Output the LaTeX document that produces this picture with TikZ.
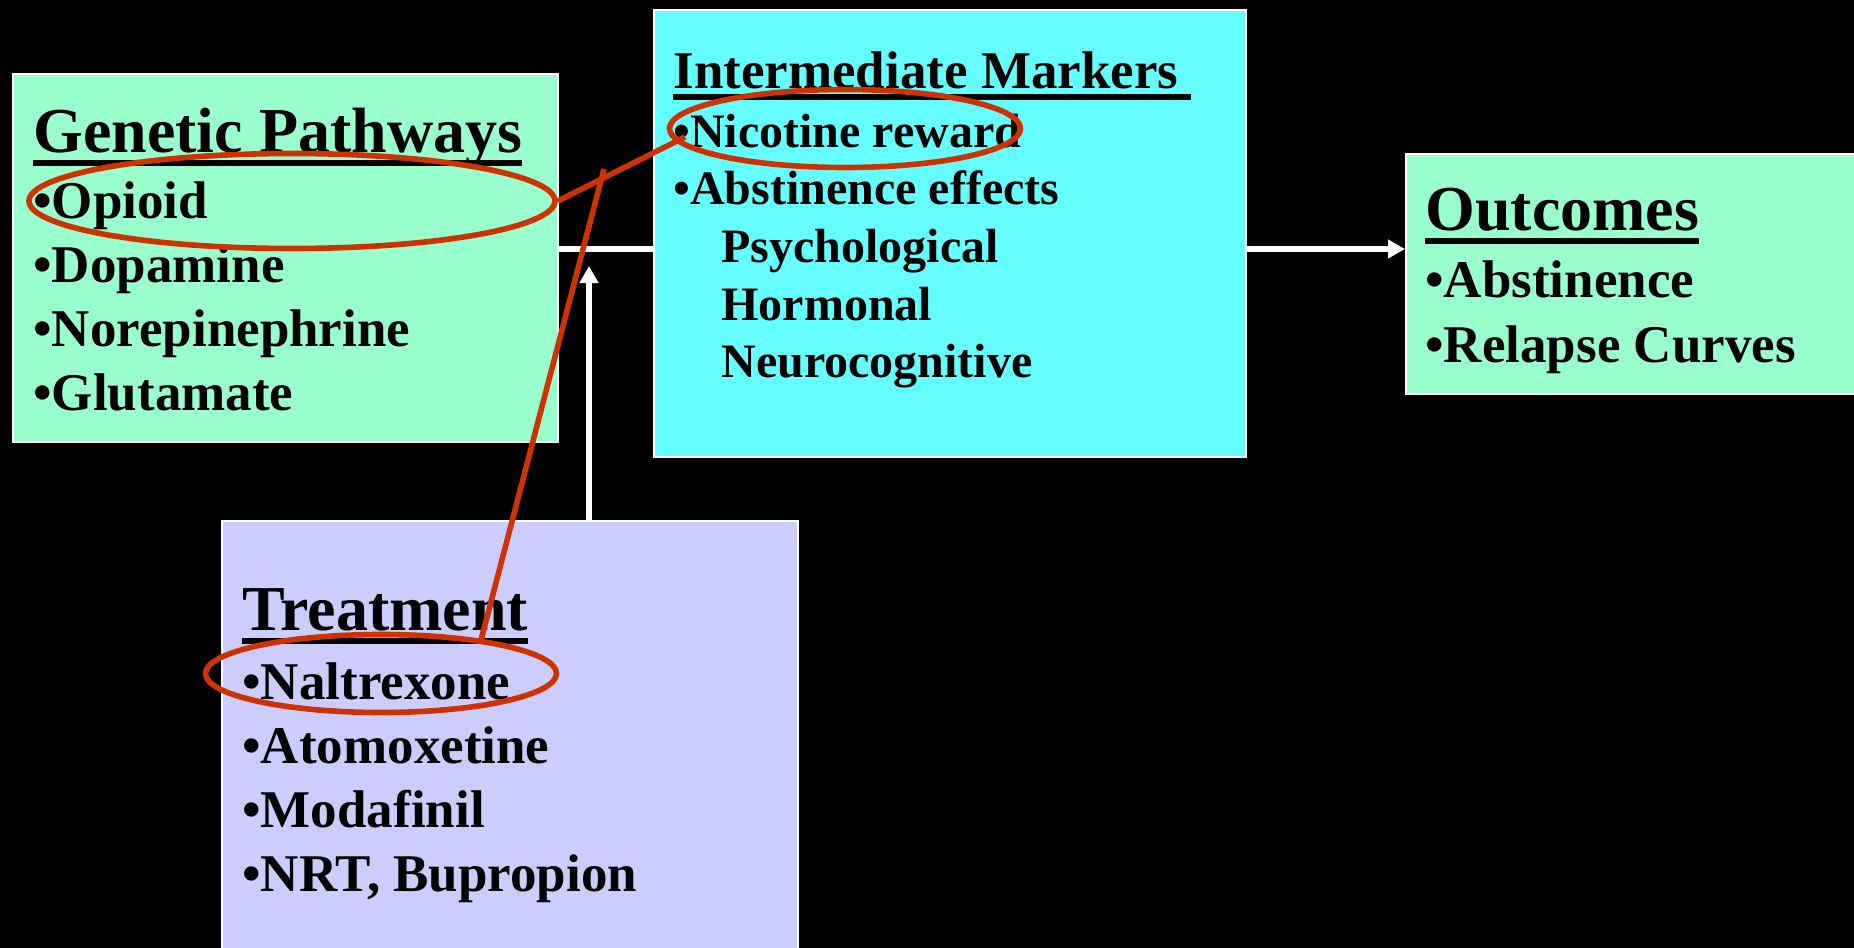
\documentclass[tikz,border=0pt]{standalone}
\usepackage{fontspec}
\setmainfont{Liberation Serif}
\usetikzlibrary{shapes.geometric, arrows.meta}

\definecolor{genegreen}{HTML}{99FFCC}
\definecolor{markcyan}{HTML}{66FFFF}
\definecolor{treatblue}{HTML}{CCCCFF}
\definecolor{ringred}{HTML}{CC3300}

\newcommand{\headbar}[1]{\setbox0=\hbox{#1}\rlap{\rule[-0.22em]{\wd0}{0.1em}}\box0}

\begin{document}
\begin{tikzpicture}[x=0.5pt, y=-0.5pt, >={Triangle[length=8.5pt, width=9pt]},
    panel/.style={draw=white, line width=1pt, inner sep=0pt, anchor=north west},
    head/.style={anchor=base west, inner sep=0pt, font=\fontsize{32}{38}\selectfont\bfseries},
    item/.style={anchor=base west, inner sep=0pt, font=\fontsize{26.5}{32}\selectfont\bfseries},
    sub/.style={anchor=base west, inner sep=0pt, font=\fontsize{24}{29}\selectfont\bfseries},
    ring/.style={ellipse, draw=ringred, line width=2.8pt, inner sep=0pt},
    wline/.style={draw=white, line width=2.8pt},
    rline/.style={draw=ringred, line width=2.8pt}]

    \fill[black] (0,0) rectangle (1854,948);
    \useasboundingbox (0,0) rectangle (1854,948);

    \node[panel, fill=genegreen, minimum width=272.5pt, minimum height=184pt] (gen) at (12,73) {};
    \node[panel, fill=markcyan, minimum width=296pt, minimum height=223.5pt] (mid) at (653,9) {};
    \node[panel, fill=genegreen, minimum width=226pt, minimum height=120pt] (out) at (1405,153) {};
    \node[panel, fill=treatblue, minimum width=288pt, minimum height=218pt] (treat) at (221,520) {};

    \node[head] (gen-h) at (33,152) {\headbar{Genetic Pathways}};
    \foreach \t [count=\i] in {Opioid, Dopamine, Norepinephrine, Glutamate}
        \node[item] (gen\i) at (33, {218+64*(\i-1)}) {•\t};

    \node[item] (mid-h) at (673,88) {\headbar{Intermediate Markers\ }};
    \node[sub] (mid1) at (673,147) {•Nicotine reward};
    \node[sub] (mid2) at (673,204) {•Abstinence effects};
    \node[sub] (mid3) at (721,262) {Psychological};
    \node[sub] (mid4) at (721,320) {Hormonal};
    \node[sub] (mid5) at (721,377) {Neurocognitive};

    \node[head] (out-h) at (1425,230) {\headbar{Outcomes}};
    \node[item] (out1) at (1425,297) {•Abstinence};
    \node[item] (out2) at (1425,362) {•Relapse Curves};

    \node[head] (treat-h) at (242,630) {\headbar{Treatment}};
    \foreach \t [count=\i] in {Naltrexone, Atomoxetine, Modafinil, {NRT, Bupropion}}
        \node[item] (treat\i) at (242, {699+64*(\i-1)}) {•\t};

    \coordinate (hub) at (589,249);
    \coordinate (tip) at (589,266);
    \draw[wline] (gen.east |- hub) -- (mid.west |- hub);
    \draw[wline, ->] (mid.east |- hub) -- (out.west |- hub);
    \draw[wline, ->] (treat.north -| hub) -- (tip);

    \node[ring, minimum width=263pt, minimum height=47.5pt] (opioid) at (292,201) {};
    \node[ring, minimum width=175.5pt, minimum height=39pt] (nicotine) at (845,128.5) {};
    \node[ring, minimum width=175.5pt, minimum height=39pt] (naltrexone) at (381,673.5) {};

    \coordinate (nicdot) at (685,137);
    \coordinate (tick) at (604,169);
    \draw[rline] (opioid.east) -- (nicdot);
    \draw[rline] (naltrexone.19) -- (tick);

\end{tikzpicture}
\end{document}
